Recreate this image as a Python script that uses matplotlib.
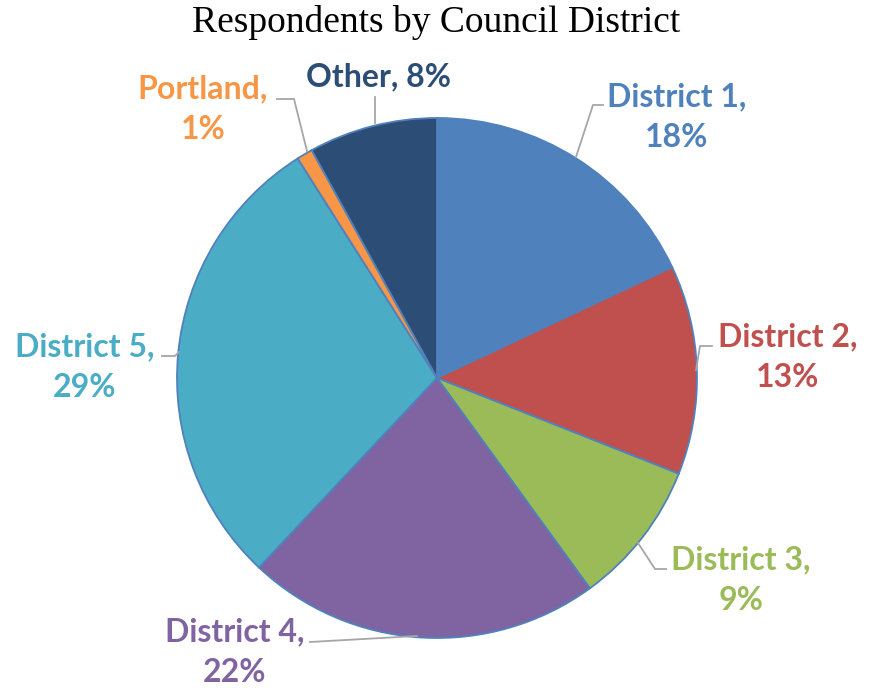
import matplotlib
matplotlib.use("Agg")
import matplotlib.pyplot as plt

# ---- data ----
categories = ["District 1", "District 2", "District 3", "District 4", "District 5", "Portland", "Other"]
shares = [18, 13, 9, 22, 29, 1, 8]
colors = ["#4F81BD", "#C0504D", "#9BBB59", "#8064A2", "#4BACC6", "#F79646", "#2C4D75"]
title = "Respondents by Council District"

W, H = 869, 688
fig = plt.figure(figsize=(W / 100, H / 100), dpi=100)
ax = fig.add_axes([0, 0, 1, 1])

def Y(y):
    return H - y

cx, cy, r = 437, 378, 260
ax.pie(shares, colors=colors, startangle=90, counterclock=False,
       center=(cx, Y(cy)), radius=r, frame=True,
       wedgeprops=dict(edgecolor="#4F81BD", linewidth=1.3))
ax.set_xlim(0, W)
ax.set_ylim(0, H)
ax.set_aspect("equal")
ax.axis("off")

# label layout (pixel positions)
label_pos = [(677, 117), (788, 357), (741, 580), (235, 652), (85, 367), (203, 109), (378, 77)]
two_line = [True, True, True, True, True, True, False]
leaders = [
    [(603, 105), (593, 105), (576, 157)],
    [(712, 346), (700, 346), (696, 370)],
    [(666, 569), (655, 569), (638, 543)],
    [(310, 642), (417, 636)],
    [(162, 356), (175, 356), (179, 352)],
    [(277, 99), (294, 99), (307, 151)],
    [(375, 97), (375, 123)],
]

for name, v, c, (x, y), tl, pts in zip(categories, shares, colors, label_pos, two_line, leaders):
    txt = f"{name},\n{v}%" if tl else f"{name}, {v}%"
    ax.text(x, Y(y), txt, ha="center", va="center", color=c,
            fontsize=23, fontweight="bold", family="Lato", linespacing=1.5)
    ax.plot([p[0] for p in pts], [Y(p[1]) for p in pts], color="#A6A6A6", lw=1.3,
            solid_joinstyle="miter")

ax.text(W / 2 + 2, Y(22), title, ha="center", va="center", fontsize=27,
        family="Liberation Serif", color="black")

fig.savefig("out.png", dpi=100)
